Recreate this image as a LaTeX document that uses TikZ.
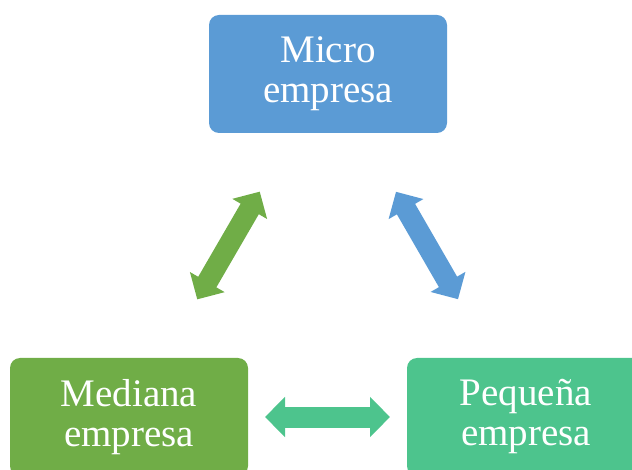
\documentclass[tikz,border=0pt]{standalone}
\usepackage{fontspec}
\setmainfont{Liberation Serif}
\usetikzlibrary{arrows.meta}

\definecolor{microblue}{HTML}{5B9BD5}
\definecolor{medgreen}{HTML}{70AD47}
\definecolor{peqgreen}{HTML}{4DC48D}

\tikzset{
  firmbox/.style = {rectangle, rounded corners = 10pt, fill = #1,
    text = white, align = center, minimum width = 238pt,
    minimum height = 118pt, font = \fontsize{39}{40}\selectfont},
  link/.style = {draw = #1, line width = 21pt,
    {Triangle[width = 39pt, length = 20pt]}-{Triangle[width = 39pt, length = 20pt]},
    shorten >= 136pt, shorten <= 136pt}
}

\begin{document}
\begin{tikzpicture}[x = 1pt, y = -1pt]
        \useasboundingbox (0,0) rectangle (632,470);

        % draws the boxes
        \node[firmbox = microblue] (micro) at (328,74) {Micro\\empresa};
        \node[firmbox = medgreen] (mediana) at (129,417) {Mediana\\empresa};
        \node[firmbox = peqgreen] (pequena) at (526,417) {Pequeña\\empresa};

        % draws the arrows
        \foreach \a/\b/\c in {micro/mediana/medgreen, micro/pequena/microblue,
          mediana/pequena/peqgreen}
          \draw[link = \c] (\a.center) -- (\b.center);
      \end{tikzpicture}
\end{document}
